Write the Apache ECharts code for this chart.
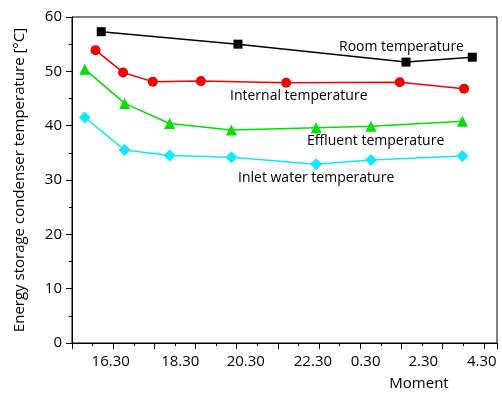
<!DOCTYPE html>
<html>
<head>
<meta charset="utf-8">
<script src="https://cdn.jsdelivr.net/npm/echarts@6/dist/echarts.min.js"></script>
<style>html,body{margin:0;padding:0;background:#fff;}#c{width:502px;height:394px;}</style>
</head>
<body>
<div id="c"></div>
<script>
// x positions are in axis tick units (one major tick = 1)
const tickLabelPos = [0.94, 2.63, 4.22, 5.85, 7.13, 8.53, 9.95];
const tickLabels = ['16.30', '18.30', '20.30', '22.30', '0.30', '2.30', '4.30'];

const roomX = [0.71, 4.03, 8.11, 9.72];
const roomY = [57.3, 55.0, 51.7, 52.6];

const internalX = [0.57, 1.24, 1.96, 3.13, 5.20, 7.96, 9.52];
const internalY = [53.9, 49.8, 48.1, 48.2, 47.9, 48.0, 46.8];

const effluentX = [0.31, 1.28, 2.37, 3.87, 5.93, 7.26, 9.48];
const effluentY = [50.4, 44.1, 40.4, 39.2, 39.6, 39.9, 40.8];

const inletX = [0.31, 1.28, 2.37, 3.87, 5.93, 7.26, 9.48];
const inletY = [41.5, 35.5, 34.5, 34.2, 32.9, 33.7, 34.4];

const seriesNames = ['Room temperature', 'Internal temperature', 'Effluent temperature', 'Inlet water temperature'];

const FONT = 'Open Sans';
function pairs(xs, ys) { return xs.map((x, i) => [x, ys[i]]); }

const chart = echarts.init(document.getElementById('c'), null, {renderer: 'canvas'});
function mk(name, xs, ys, color, symbol, size) {
  return {
    name, type: 'line', data: pairs(xs, ys), symbol, symbolSize: size,
    lineStyle: {color, width: 1.5}, itemStyle: {color}, animation: false
  };
}
chart.setOption({
  animation: false,
  grid: {left: 72, top: 17, right: 5, bottom: 51, show: true, borderColor: '#000', borderWidth: 1,
         containLabel: false, outerBoundsMode: 'none'},
  xAxis: {
    type: 'value', min: 0, max: 10.32, interval: 1,
    name: 'Moment', nameLocation: 'middle', nameGap: 33,
    nameTextStyle: {fontFamily: FONT, fontSize: 15, color: '#000', padding: [0, 0, 0, 269]},
    axisLine: {show: true, lineStyle: {color: '#000', width: 1}},
    axisTick: {show: true, inside: false, length: 6, lineStyle: {color: '#000', width: 1}},
    minorTick: {show: true, splitNumber: 2, length: 3, lineStyle: {color: '#000', width: 1}},
    splitLine: {show: false},
    axisLabel: {
      customValues: tickLabelPos,
      formatter: v => { const i = tickLabelPos.findIndex(p => Math.abs(p - v) < 1e-6); return i >= 0 ? tickLabels[i] : ''; },
      fontFamily: FONT, fontSize: 15, color: '#000', margin: 11
    }
  },
  yAxis: {
    type: 'value', min: 0, max: 60, interval: 10,
    name: 'Energy storage condenser temperature [°C]', nameLocation: 'middle', nameGap: 45,
    nameTextStyle: {fontFamily: FONT, fontSize: 15, color: '#000'},
    axisLine: {show: true, lineStyle: {color: '#000', width: 1}},
    axisTick: {show: true, inside: false, length: 6, lineStyle: {color: '#000', width: 1}},
    minorTick: {show: true, splitNumber: 2, length: 3, lineStyle: {color: '#000', width: 1}},
    splitLine: {show: false},
    axisLabel: {fontFamily: FONT, fontSize: 15, color: '#000', margin: 10}
  },
  series: [
    mk(seriesNames[0], roomX, roomY, '#000000', 'rect', 9),
    mk(seriesNames[1], internalX, internalY, '#f50000', 'circle', 10),
    mk(seriesNames[2], effluentX, effluentY, '#00e000', 'triangle', 11),
    mk(seriesNames[3], inletX, inletY, '#10e8ff', 'diamond', 12)
  ],
  graphic: [
    {type: 'text', left: 339, top: 40, style: {text: seriesNames[0], fontFamily: FONT, fontSize: 14, fill: '#000'}},
    {type: 'text', left: 230, top: 89, style: {text: seriesNames[1], fontFamily: FONT, fontSize: 14, fill: '#000'}},
    {type: 'text', left: 307, top: 134, style: {text: seriesNames[2], fontFamily: FONT, fontSize: 14, fill: '#000'}},
    {type: 'text', left: 238, top: 171, style: {text: seriesNames[3], fontFamily: FONT, fontSize: 14, fill: '#000'}}
  ]
});
</script>
</body>
</html>
